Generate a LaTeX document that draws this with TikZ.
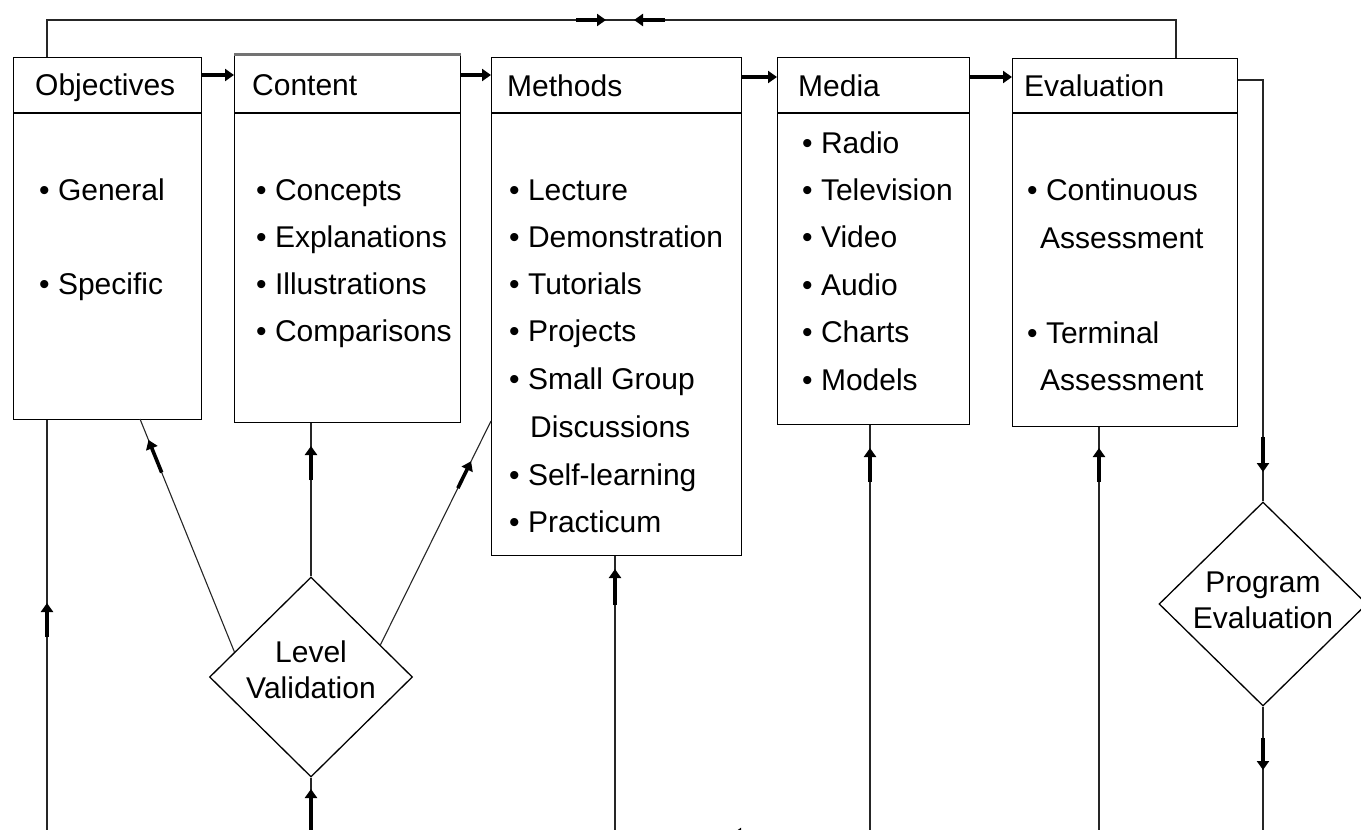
\documentclass[tikz,border=0pt]{standalone}
\usepackage{fontspec}
\setmainfont{Liberation Sans}
\usetikzlibrary{arrows.meta,shapes.geometric,calc}
\begin{document}
\begin{tikzpicture}[x=1pt,y=-1pt,
  box/.style={draw, line width=1.3pt, anchor=north west, inner sep=0pt},
  txt/.style={anchor=base west, inner sep=0pt, font=\fontsize{30}{36}\selectfont},
  ctxt/.style={inner sep=0pt, align=center, font=\fontsize{30}{36}\selectfont},
  ln/.style={line width=1.1pt, draw=black!85},
  thk/.style={line width=3.6pt, -{Triangle[length=9pt,width=12pt]}},
  dia/.style={draw, diamond, line width=1.3pt, inner sep=0pt}]
\useasboundingbox (0,0) rectangle (1361,830);

% boxes
\node[box, minimum width=188pt, minimum height=362pt] (obj) at (13,57) {};
\node[box, minimum width=226pt, minimum height=369pt] (con) at (234,53) {};
\node[box, minimum width=250pt, minimum height=498pt] (met) at (491,57) {};
\node[box, minimum width=192pt, minimum height=367pt] (med) at (777,57) {};
\node[box, minimum width=225pt, minimum height=368pt] (eva) at (1012,58) {};
\draw[line width=3pt, black!55] ($(con.north west)+(0,1)$) -- ($(con.north east)+(0,1)$);

% header separators
\foreach \b in {obj,con,met,med,eva}
  \draw[line width=1.3pt] (\b.west |- 0,113) -- (\b.east |- 0,113);

% headers
\node[txt] (objh) at (35,95) {Objectives};
\node[txt] (conh) at (252,95) {Content};
\node[txt] (meth) at (507,96) {Methods};
\node[txt] (medh) at (798,96) {Media};
\node[txt] (evah) at (1024,96) {Evaluation};

% items
\node[txt] (o1) at (39,200) {\textbullet\ General};
\node[txt] (o2) at (39,294) {\textbullet\ Specific};
\foreach \t [count=\i] in {Concepts,Explanations,Illustrations,Comparisons}
  \node[txt] (c\i) at (256,{200+47*(\i-1)}) {\textbullet\ \t};
\foreach \t [count=\i] in {Lecture,Demonstration,Tutorials,Projects,Small Group}
  \node[txt] (m\i) at (509,{200+47.3*(\i-1)}) {\textbullet\ \t};
\node[txt] (m6) at (530,437) {Discussions};
\node[txt] (m7) at (509,485) {\textbullet\ Self-learning};
\node[txt] (m8) at (509,532) {\textbullet\ Practicum};
\foreach \t [count=\i] in {Radio,Television,Video,Audio,Charts,Models}
  \node[txt] (d\i) at (802,{153+47.4*(\i-1)}) {\textbullet\ \t};
\node[txt] (e1) at (1027,200) {\textbullet\ Continuous};
\node[txt] (e2) at (1040,248) {Assessment};
\node[txt] (e3) at (1027,343) {\textbullet\ Terminal};
\node[txt] (e4) at (1040,390) {Assessment};

% diamonds
\node[dia, minimum width=203pt, minimum height=200pt] (lv) at (311,677) {};
\node[ctxt] (lvt) at (311,670) {Level\\Validation};
\node[dia, minimum width=208pt, minimum height=204pt] (pe) at (1263,604) {};
\node[ctxt] (pet) at (1263,600) {Program\\Evaluation};

% top feedback line
\coordinate (tl) at (47,20);
\coordinate (tr) at (1176,20);
\draw[ln] (obj.north -| tl) -- (tl) -- (tr) -- (tr |- eva.north);
\draw[thk] (576,20) -- (606,20);
\draw[thk] (665,20) -- (634,20);

% flow arrows between boxes
\draw[thk] (obj.east |- 0,75) -- (con.west |- 0,75);
\draw[thk] (con.east |- 0,75) -- (met.west |- 0,75);
\draw[thk] (met.east |- 0,77) -- (med.west |- 0,77);
\draw[thk] (med.east |- 0,77) -- (eva.west |- 0,77);

% evaluation to program evaluation
\coordinate (er) at (1263,80);
\draw[ln] (eva.east |- er) -- (er) -- (pe.north);
\draw[thk] (1263,437) -- (1263,472);
\coordinate (pb) at (1263,840);
\draw[ln] (pe.south) -- (pb);
\draw[thk] (1263,738) -- (1263,770);

% level validation connectors
\coordinate (lvl) at ($(lv.north)!0.75!(lv.west)$);
\coordinate (lvr) at ($(lv.north)!0.68!(lv.east)$);
\coordinate (ot) at (140,419);
\coordinate (mt) at (491,421);
\draw[ln] (lvl) -- (ot);
\draw[thk] ($(lvl)!0.77!(ot)$) -- ($(lvl)!0.91!(ot)$);
\draw[ln] (lv.north) -- (lv.north |- con.south);
\draw[thk] (311,480) -- (311,446);
\draw[ln] (lvr) -- (mt);
\draw[thk] ($(lvr)!0.70!(mt)$) -- ($(lvr)!0.82!(mt)$);
\coordinate (lb) at (311,840);
\draw[ln] (lv.south) -- (lb);
\draw[thk] (311,835) -- (311,789);

% bottom return lines
\coordinate (b1) at (47,840);
\draw[ln] (b1 |- obj.south) -- (b1);
\draw[thk] (47,637) -- (47,603);
\coordinate (b3) at (615,840);
\draw[ln] (b3 |- met.south) -- (b3);
\draw[thk] (615,605) -- (615,569);
\coordinate (b4) at (870,840);
\draw[ln] (b4 |- med.south) -- (b4);
\draw[thk] (870,482) -- (870,448);
\coordinate (b5) at (1099,840);
\draw[ln] (b5 |- eva.south) -- (b5);
\draw[thk] (1099,482) -- (1099,448);

% bottom line (mostly outside the picture)
\coordinate (bl) at (0,834);
\coordinate (br) at (1361,834);
\draw[ln] (bl) -- (br);
\draw[thk] (765,834) -- (732,834);
\end{tikzpicture}
\end{document}
